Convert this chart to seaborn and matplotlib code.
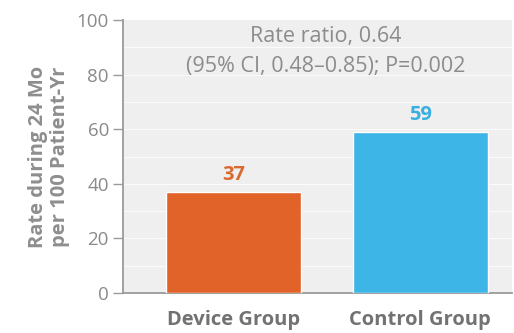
import matplotlib
matplotlib.use("Agg")
import matplotlib.pyplot as plt
import seaborn as sns
import pandas as pd

groups = ["Device Group", "Control Group"]
rates = [37, 59]
bar_colors = ["#E2632A", "#3DB5E7"]
label_colors = ["#D9692F", "#3AAFDF"]
note_lines = ["Rate ratio, 0.64", "(95% CI, 0.48\u20130.85); P=0.002"]

sns.set_style("white")
plt.rcParams["font.family"] = ["Open Sans", "DejaVu Sans"]

df = pd.DataFrame({"group": groups, "rate": rates})

fig = plt.figure(figsize=(5.14, 3.33), dpi=100)
ax = fig.add_axes([0.239, 0.12, 0.757, 0.82])
ax.set_facecolor("#EFEFEF")

sns.barplot(data=df, x="group", y="rate", hue="group", palette=bar_colors,
            width=0.72, legend=False, ax=ax, zorder=3, saturation=1)

# faint white gridlines
for yv in range(10, 100, 10):
    ax.axhline(yv, color="white", lw=0.8, alpha=0.8, zorder=1)

for i, (v, c) in enumerate(zip(rates, label_colors)):
    ax.text(i, v + 2.5, str(v), ha="center", va="bottom", color=c,
            fontsize=14.5, fontweight="bold")

ax.text(0.522, 0.941, note_lines[0], transform=ax.transAxes, ha="center",
        va="center", color="#8C8C8C", fontsize=15.5)
ax.text(0.522, 0.828, note_lines[1], transform=ax.transAxes, ha="center",
        va="center", color="#8C8C8C", fontsize=15.5)

ax.set_ylim(0, 100)
ax.set_xlim(-0.59, 1.49)
ax.set_yticks([0, 20, 40, 60, 80, 100])
ax.set_xlabel("")
ax.set_ylabel("Rate during 24 Mo\nper 100 Patient-Yr", color="#8E8E8E",
              fontsize=14.5, fontweight="bold", labelpad=5, linespacing=1.1)
ax.tick_params(axis="y", direction="out", length=7, width=1, color="#9A9A9A",
               labelcolor="#8A8A8A", labelsize=13.5, pad=3, left=True)
ax.tick_params(axis="x", length=0, labelcolor="#727272", labelsize=14.5, pad=12)
for lab in ax.get_xticklabels():
    lab.set_fontweight("bold")

sns.despine(ax=ax, top=True, right=True)
for s in ["left", "bottom"]:
    ax.spines[s].set_color("#9A9A9A")
    ax.spines[s].set_linewidth(1.3)

fig.savefig("out.png", dpi=100)
